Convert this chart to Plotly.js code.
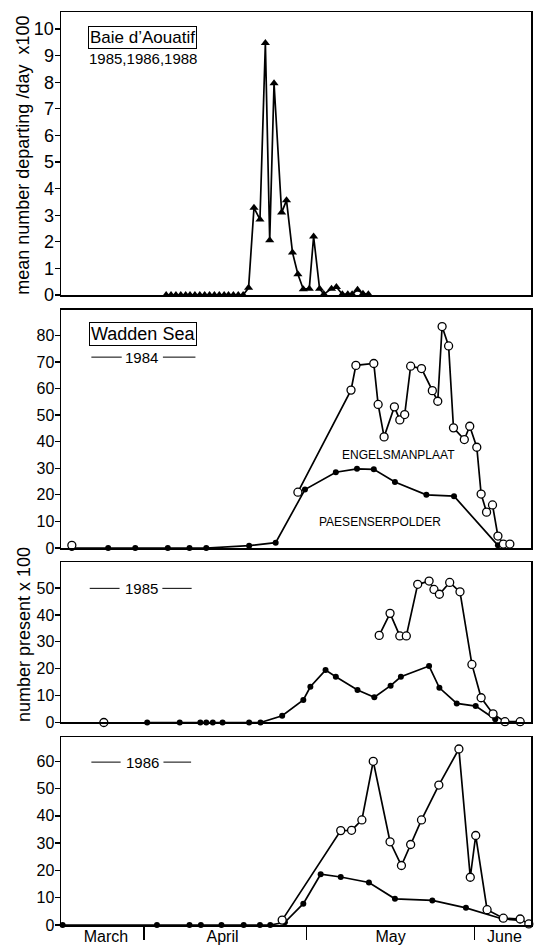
<!DOCTYPE html>
<html>
<head>
<meta charset="utf-8">
<script src="https://cdn.plot.ly/plotly-3.0.1.min.js"></script>
<style>html,body{margin:0;padding:0;background:#fff;}#chart{width:534px;height:949px;}</style>
</head>
<body>
<div id="chart"></div>
<script>
// x values: days counted from 1 March (1 April = 31, 1 May = 61, 1 June = 92)
const monthStarts = [31, 61, 92];
const monthNames = ['March', 'April', 'May', 'June'];
const monthLabelDays = [24, 45.5, 76.5, 97.5];

// Panel 1: Baie d'Aouatif, mean number departing/day x100
const baieDays = [35.1, 36.0, 36.9, 37.8, 38.7, 39.5, 40.4, 41.3, 42.2, 43.1, 44.0, 44.9, 45.8, 46.6, 47.5, 48.4, 49.3,
  50.3, 51.3, 52.4, 53.4, 54.2, 55.0, 56.4, 57.3, 58.4, 59.4, 60.4, 61.5, 62.3, 63.4, 64.2, 65.6, 66.5, 67.6, 68.6, 69.4, 70.4, 71.4, 72.4];
const baieVals = [0, 0, 0, 0, 0, 0, 0, 0, 0, 0, 0, 0, 0, 0, 0, 0, 0,
  0.27, 3.28, 2.84, 9.47, 2.06, 7.96, 3.1, 3.56, 1.6, 0.78, 0.22, 0.24, 2.2, 0.24, 0.03, 0.24, 0.3, 0.03, 0.03, 0.03, 0.2, 0.05, 0.03];

// Panel 2: Wadden Sea 1984
const eng84Days = [17.7, null, 59.4, 69.2, 70.1, 73.4, 74.2, 75.3, 77.2, 78.2, 79.1, 80.2, 82.2, 84.2, 85.2, 86.0, 87.2, 88.1, 90.1, 91.1, 92.4, 93.2, 94.2, 95.3, 96.3, 97.3, 98.5];
const eng84Vals = [1, null, 21, 59.4, 68.7, 69.4, 54, 41.8, 53.1, 48.2, 50.2, 68.4, 67.5, 59.2, 55.2, 83.3, 76, 45.2, 40.8, 45.8, 37.9, 20.3, 13.5, 16.2, 4.5, 1.5, 1.5];
const pae84Days = [17.7, 24.4, 29.4, 35.4, 39.4, 42.5, 50.4, 55.3, 60.7, 66.4, 70.3, 73.4, 77.3, 83.1, 88.2, 96.3];
const pae84Vals = [0, 0, 0, 0, 0, 0, 0.9, 2, 22, 28.5, 29.8, 29.6, 24.8, 20, 19.5, 1];

// Panel 3: 1985
const eng85Days = [23.6, null, 74.4, 76.4, 78.2, 79.4, 81.5, 83.6, 84.5, 85.5, 87.4, 89.3, 91.5, 93.2, 95.4, 97.6, 100.4];
const eng85Vals = [0, null, 32.4, 40.6, 32.2, 32.2, 51.4, 52.6, 49.5, 47.7, 52.1, 48.6, 21.6, 9.2, 3.2, 0.3, 0.3];
const pae85Days = [31.6, 37.6, 41.4, 42.5, 43.7, 45.5, 50.4, 52.5, 56.5, 60.4, 61.7, 64.5, 66.4, 70.4, 73.5, 76.5, 78.4, 83.6, 85.5, 88.7, 92.2, 95.8];
const pae85Vals = [0, 0, 0, 0, 0, 0, 0, 0, 2.5, 8.4, 13.3, 19.5, 17.0, 12.1, 9.4, 13.7, 17.0, 21.0, 12.9, 7.1, 6.1, 1.2];

// Panel 4: 1986
const eng86Days = [56.5, 67.3, 69.3, 71.2, 73.3, 76.4, 78.5, 80.2, 82.2, 85.4, 89.1, 91.2, 92.2, 94.3, 97.3, 100.4, 102.0];
const eng86Vals = [1.8, 34.6, 34.7, 38.5, 60, 30.5, 21.8, 29.5, 38.5, 51.3, 64.5, 17.5, 32.8, 5.6, 2.5, 2.2, 0.4];
const pae86Days = [16.0, 33.4, 39.4, 41.5, 45.3, 49.4, 52.4, 54.3, 57.0, 60.4, 63.6, 67.3, 72.5, 77.3, 84.2, 90.4, 97.0, 100.4];
const pae86Vals = [0, 0, 0, 0, 0, 0, 0, 0, 1.0, 7.8, 18.6, 17.6, 15.6, 9.6, 9.0, 6.3, 2.3, 1.7];

const FONT = 'Liberation Sans, Arial, Helvetica, sans-serif';
const LINE = {color: '#000', width: 1.7};
const openM = {symbol: 'circle', size: 8, color: '#fff', line: {color: '#000', width: 1.3}};
const fillM = {symbol: 'circle', size: 6, color: '#000'};

function tr(x, y, xa, ya, marker) {
  return {type: 'scatter', mode: 'lines+markers', x: x, y: y, xaxis: xa, yaxis: ya,
    line: LINE, marker: marker, cliponaxis: false, connectgaps: false, hoverinfo: 'skip', showlegend: false};
}

const traces = [
  tr(baieDays, baieVals, 'x', 'y', {symbol: 'triangle-up', size: 8, color: '#000'}),
  tr(pae84Days, pae84Vals, 'x2', 'y2', fillM),
  tr(eng84Days, eng84Vals, 'x2', 'y2', openM),
  tr(pae85Days, pae85Vals, 'x3', 'y3', fillM),
  tr(eng85Days, eng85Vals, 'x3', 'y3', openM),
  tr(pae86Days, pae86Vals, 'x4', 'y4', fillM),
  tr(eng86Days, eng86Vals, 'x4', 'y4', openM),
  {type: 'scatter', mode: 'markers', x: [monthLabelDays[0]], y: [0], xaxis: 'x5', yaxis: 'y4',
    marker: {opacity: 0}, hoverinfo: 'skip', showlegend: false}
];

const xr = [15.7, 102.4];
function xax(extra) {
  return Object.assign({range: xr, showgrid: false, zeroline: false, showline: true, mirror: true,
    linecolor: '#000', linewidth: 1.5, ticks: '', showticklabels: false, fixedrange: true}, extra);
}
function yax(domain, range, tickvals, size, extra) {
  return Object.assign({domain: domain, range: range, tickvals: tickvals, showgrid: false, zeroline: false,
    showline: true, mirror: true, linecolor: '#000', linewidth: 1.5, ticks: 'outside', ticklen: 5,
    tickwidth: 1.3, tickcolor: '#000', ticklabelstandoff: -3,
    tickfont: {family: FONT, size: size, color: '#000'}, fixedrange: true}, extra);
}

const layout = {
  width: 534, height: 949,
  margin: {l: 61, r: 3, t: 12, b: 24},
  paper_bgcolor: '#fff', plot_bgcolor: '#fff',
  font: {family: FONT, color: '#000'},
  xaxis: xax({anchor: 'y'}),
  xaxis2: xax({anchor: 'y2'}),
  xaxis3: xax({anchor: 'y3'}),
  xaxis4: xax({anchor: 'y4', tickvals: monthStarts, ticks: 'outside', ticklen: 13, tickwidth: 1.3, tickcolor: '#000'}),
  xaxis5: {overlaying: 'x4', anchor: 'y4', side: 'bottom', range: xr, showgrid: false, zeroline: false,
    showline: false, ticks: '', tickvals: monthLabelDays, ticktext: monthNames, ticklabelstandoff: 0,
    tickfont: {family: FONT, size: 16, color: '#000'}, fixedrange: true},
  yaxis: yax([0.690, 1.0], [0, 10.64], [0, 1, 2, 3, 4, 5, 6, 7, 8, 9, 10], 18, {anchor: 'x'}),
  yaxis2: yax([0.4129, 0.6741], [0, 89.7], [0, 10, 20, 30, 40, 50, 60, 70, 80], 16, {anchor: 'x2'}),
  yaxis3: yax([0.2218, 0.3973], [0, 59.6], [0, 10, 20, 30, 40, 50], 16, {anchor: 'x3'}),
  yaxis4: yax([0, 0.2059], [0, 68.9], [0, 10, 20, 30, 40, 50, 60], 16, {anchor: 'x4'}),
  shapes: [
    {type: 'line', xref: 'x2', yref: 'y2', x0: 21.3, x1: 26.9, y0: 71.8, y1: 71.8, line: {color: '#000', width: 1}},
    {type: 'line', xref: 'x2', yref: 'y2', x0: 34.5, x1: 40.5, y0: 71.8, y1: 71.8, line: {color: '#000', width: 1}},
    {type: 'line', xref: 'x3', yref: 'y3', x0: 21.0, x1: 26.5, y0: 49.9, y1: 49.9, line: {color: '#000', width: 1}},
    {type: 'line', xref: 'x3', yref: 'y3', x0: 34.4, x1: 39.8, y0: 49.9, y1: 49.9, line: {color: '#000', width: 1}},
    {type: 'line', xref: 'x4', yref: 'y4', x0: 21.3, x1: 26.7, y0: 59.7, y1: 59.7, line: {color: '#000', width: 1}},
    {type: 'line', xref: 'x4', yref: 'y4', x0: 34.6, x1: 39.7, y0: 59.7, y1: 59.7, line: {color: '#000', width: 1}}
  ],
  annotations: [
    {text: 'mean number departing /day  x100', xref: 'paper', yref: 'paper', x: -0.08, y: 0.843,
      textangle: -90, showarrow: false, xanchor: 'center', yanchor: 'middle', font: {size: 18}},
    {text: 'number present x 100', xref: 'paper', yref: 'paper', x: -0.08, y: 0.318,
      textangle: -90, showarrow: false, xanchor: 'center', yanchor: 'middle', font: {size: 18}},
    {text: 'Baie d\u2019Aouatif', xref: 'x', yref: 'y', x: 30.8, y: 9.68, showarrow: false,
      bordercolor: '#000', borderwidth: 1, borderpad: 1, font: {size: 17}},
    {text: '1985,1986,1988', xref: 'x', yref: 'y', x: 30.9, y: 8.91, showarrow: false, font: {size: 15}},
    {text: 'Wadden Sea', xref: 'x2', yref: 'y2', x: 30.8, y: 80.5, showarrow: false,
      bordercolor: '#000', borderwidth: 1, borderpad: 1, font: {size: 18}},
    {text: '1984', xref: 'x2', yref: 'y2', x: 30.6, y: 71.8, showarrow: false, font: {size: 15}},
    {text: '1985', xref: 'x3', yref: 'y3', x: 30.5, y: 49.9, showarrow: false, font: {size: 15}},
    {text: '1986', xref: 'x4', yref: 'y4', x: 30.7, y: 59.7, showarrow: false, font: {size: 15}},
    {text: 'ENGELSMANPLAAT', xref: 'x2', yref: 'y2', x: 78.0, y: 35.0, showarrow: false, font: {size: 12}},
    {text: 'PAESENSERPOLDER', xref: 'x2', yref: 'y2', x: 74.5, y: 9.9, showarrow: false, font: {size: 12}}
  ]
};

Plotly.newPlot('chart', traces, layout, {staticPlot: true, displayModeBar: false});
</script>
</body>
</html>
